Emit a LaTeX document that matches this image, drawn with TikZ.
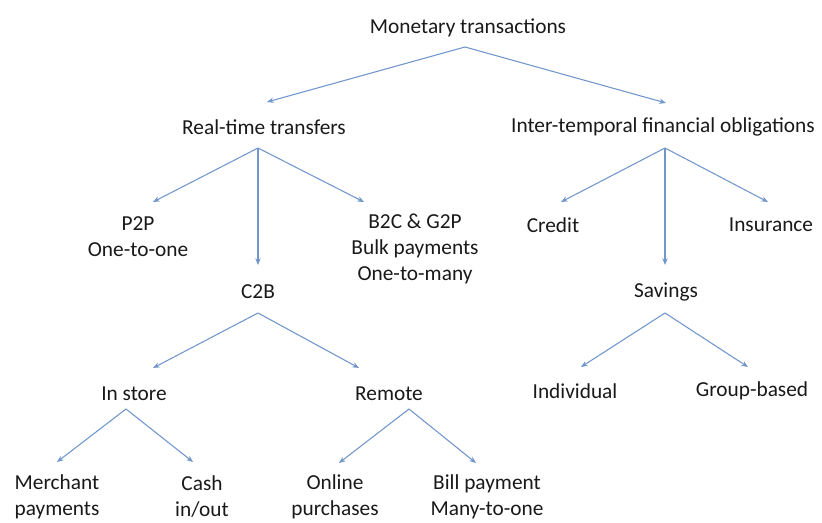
\documentclass[tikz,border=0pt]{standalone}
\usepackage{fontspec}
\setmainfont{Carlito}
\usetikzlibrary{arrows.meta}
\definecolor{arrowblue}{RGB}{112,150,204}
\tikzset{
  lbl/.style= {inner sep=0, align=center, text=black!90, font=\fontsize{16}{19.5}\selectfont},
  arr/.style= {draw=arrowblue, line width=0.8pt, -{Stealth[length=5pt, width=4pt]}},
}

\begin{document}
\begin{tikzpicture}[x=0.75pt, y=-0.75pt]
  \useasboundingbox (0,0) rectangle (822,523);
  \node [lbl] (mt) at (468,28) {Monetary transactions} ;
  \node [lbl] (rt) at (264,127) {Real-time transfers} ;
  \node [lbl] (ito) at (663,127) {Inter-temporal financial obligations} ;
  \node [lbl] (p2p) at (138,237) {P2P\\One-to-one} ;
  \node [lbl] (c2b) at (258,292) {C2B} ;
  \node [lbl] (b2c) at (415,249) {B2C \& G2P\\Bulk payments\\One-to-many} ;
  \node [lbl] (credit) at (553,225) {Credit} ;
  \node [lbl] (sav) at (666,292) {Savings} ;
  \node [lbl] (ins) at (771,225) {Insurance} ;
  \node [lbl] (instore) at (134,394) {In store} ;
  \node [lbl] (remote) at (389,394) {Remote} ;
  \node [lbl] (ind) at (575,391) {Individual} ;
  \node [lbl] (grp) at (752,391) {Group-based} ;
  \node [lbl] (merch) at (57,497) {Merchant\\payments} ;
  \node [lbl] (cash) at (202,497) {Cash\\in/out} ;
  \node [lbl] (online) at (335,497) {Online\\purchases} ;
  \node [lbl] (bill) at (487,497) {Bill payment\\Many-to-one} ;

  % top level
  \draw [arr] ([shift={(-3,19)}]mt.center) -- ([shift={(3,-25)}]rt.center) ;
  \draw [arr] ([shift={(-3,19)}]mt.center) -- ([shift={(3,-24)}]ito.center) ;
  % real-time transfers
  \draw [arr] ([shift={(-6,21)}]rt.center) -- ([shift={(15,-35)}]p2p.center) ;
  \draw [arr] ([shift={(-6,21)}]rt.center) -- ([shift={(0,-27)}]c2b.center) ;
  \draw [arr] ([shift={(-6,21)}]rt.center) -- ([shift={(-51,-47)}]b2c.center) ;
  % inter-temporal obligations
  \draw [arr] ([shift={(2,21)}]ito.center) -- ([shift={(8,-23)}]credit.center) ;
  \draw [arr] ([shift={(2,21)}]ito.center) -- ([shift={(-1,-27)}]sav.center) ;
  \draw [arr] ([shift={(2,21)}]ito.center) -- ([shift={(-3,-23)}]ins.center) ;
  % C2B and savings
  \draw [arr] ([shift={(0,21)}]c2b.center) -- ([shift={(19,-26)}]instore.center) ;
  \draw [arr] ([shift={(0,21)}]c2b.center) -- ([shift={(-30,-26)}]remote.center) ;
  \draw [arr] ([shift={(-1,21)}]sav.center) -- ([shift={(6,-24)}]ind.center) ;
  \draw [arr] ([shift={(-1,21)}]sav.center) -- ([shift={(-4,-24)}]grp.center) ;
  % bottom level
  \draw [arr] ([shift={(-8,15)}]instore.center) -- ([shift={(0,-35)}]merch.center) ;
  \draw [arr] ([shift={(-8,15)}]instore.center) -- ([shift={(-9,-35)}]cash.center) ;
  \draw [arr] ([shift={(20,15)}]remote.center) -- ([shift={(4,-34)}]online.center) ;
  \draw [arr] ([shift={(20,15)}]remote.center) -- ([shift={(-11,-34)}]bill.center) ;
\end{tikzpicture}
\end{document}
